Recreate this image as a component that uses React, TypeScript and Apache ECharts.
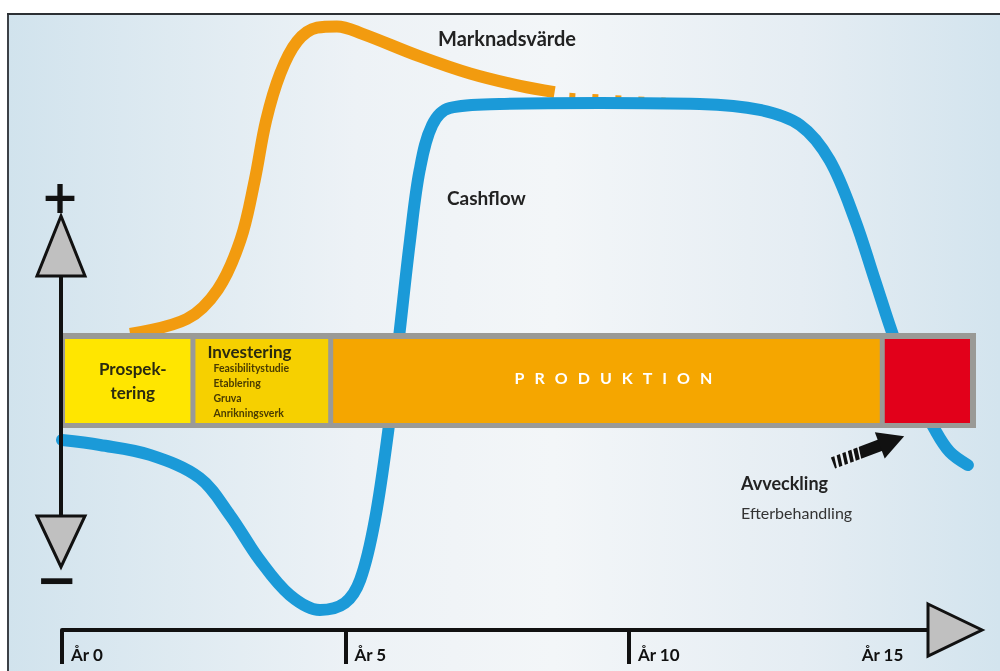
import React, { useEffect, useRef } from "react";
import * as echarts from "echarts";

// ---- data ----
const marketYears = [1.2, 2.2, 2.75, 3.15, 3.4, 3.6, 3.85, 4.15, 4.5, 4.85, 5.3, 6.3, 7.2, 8.08, 8.69];
const marketValues = [2.1, 2.7, 3.9, 5.9, 8.3, 10.7, 12.6, 13.9, 14.45, 14.5, 14.2, 13.3, 12.6, 12.1, 11.85];
const forecastYears = [8.95, 10.65];
const forecastValues = [11.7, 11.5];
const cashYears = [0, 0.67, 1.55, 2.43, 2.96, 3.49, 4.02, 4.55, 4.99, 5.26, 5.52, 5.78, 5.96, 6.14, 6.31, 6.53, 6.84, 7.72, 9.49, 11.25, 12.31, 13.02, 13.54, 13.99, 14.34, 14.69, 15.04, 15.4, 15.66, 15.98];
const cashValues = [-2.18, -2.38, -2.78, -3.71, -5.2, -7.02, -8.43, -9.03, -8.75, -7.82, -5.4, -1.37, 2.26, 5.89, 8.71, 10.52, 11.21, 11.37, 11.41, 11.37, 11.13, 10.52, 9.11, 6.69, 4.27, 1.85, -0.16, -1.77, -2.66, -3.19];

const phaseNames = ["Prospektering", "Investering", "Produktion", "Avveckling"];
const phaseStart = [0, 2.31, 4.74, 14.47];
const phaseEnd = [2.31, 4.74, 14.47, 16];
const phaseColors = ["#ffe600", "#f6d000", "#f5a600", "#e2001a"];
const investSubLabels = ["Feasibilitystudie", "Etablering", "Gruva", "Anrikningsverk"];

const tickYears = [0, 5, 10];
const tickLabels = ["År 0", "År 5", "År 10"];
const endYear = [15];
const endLabel = ["År 15"];

const BAR_TOP = 2.137;
const BAR_BOTTOM = -1.694;
const ORANGE = "#f29b0f";
const BLUE = "#1b9ad8";
const FONT = "Lato, 'Open Sans', sans-serif";

export default function App() {
  const ref = useRef<HTMLDivElement>(null);
  useEffect(() => {
    const chart = echarts.init(ref.current!, null, { renderer: "svg" });
    const option: any = {
      animation: false,
      grid: { left: 62, right: 31, top: 14, bottom: 41, containLabel: false },
      xAxis: [
        {
          type: "value",
          min: 0,
          max: 16,
          interval: 5,
          axisLine: { show: true, onZero: false, lineStyle: { color: "#111", width: 4 } },
          axisTick: { show: true, customValues: tickYears, length: 34, inside: false, lineStyle: { color: "#111", width: 4 } },
          axisLabel: {
            customValues: tickYears,
            formatter: (v: number) => { const i = tickYears.indexOf(v); return i >= 0 ? tickLabels[i] : ""; },
            align: "left",
            verticalAlign: "top",
            padding: [0, 0, 0, 9],
            margin: 16,
            fontFamily: FONT,
            fontWeight: "bold",
            fontSize: 17,
            color: "#111",
          },
          splitLine: { show: false },
        },
        {
          type: "value",
          min: 0,
          max: 16,
          interval: 15,
          position: "bottom",
          axisLine: { show: false, onZero: false },
          axisTick: { show: false },
          axisLabel: {
            customValues: endYear,
            formatter: (v: number) => { const i = endYear.indexOf(v); return i >= 0 ? endLabel[i] : ""; },
            align: "right",
            verticalAlign: "top",
            padding: [0, 9, 0, 0],
            margin: 16,
            fontFamily: FONT,
            fontWeight: "bold",
            fontSize: 17,
            color: "#111",
          },
          splitLine: { show: false },
        },
      ],
      yAxis: { type: "value", min: -9.84, max: 15, show: false },
      graphic: [
        {
          type: "rect",
          z: -10,
          silent: true,
          shape: { x: 8, y: 14, width: 992, height: 657 },
          style: {
            fill: new echarts.graphic.LinearGradient(0, 0, 1, 0, [
              { offset: 0, color: "#d1e3ed" },
              { offset: 0.35, color: "#edf2f6" },
              { offset: 0.55, color: "#f3f6f8" },
              { offset: 0.8, color: "#e5edf3" },
              { offset: 1, color: "#d3e4ee" },
            ]),
          },
        },
        { type: "line", z: 100, shape: { x1: 8, y1: 14, x2: 8, y2: 671 }, style: { stroke: "#3c4146", lineWidth: 2 } },
        { type: "line", z: 100, shape: { x1: 7, y1: 14, x2: 1000, y2: 14 }, style: { stroke: "#2c3034", lineWidth: 2 } },
        // vertical +/- axis
        { type: "line", z: 100, shape: { x1: 61, y1: 274, x2: 61, y2: 518 }, style: { stroke: "#111", lineWidth: 4 } },
        { type: "polygon", z: 100, shape: { points: [[61, 216], [37, 276], [85, 276]] }, style: { fill: "#c0c0c0", stroke: "#111", lineWidth: 3 } },
        { type: "polygon", z: 100, shape: { points: [[37, 516], [85, 516], [61, 567]] }, style: { fill: "#c0c0c0", stroke: "#111", lineWidth: 3 } },
        { type: "text", z: 100, style: { x: 60, y: 197, text: "+", fill: "#111", fontSize: 46, fontWeight: "bold", fontFamily: "DejaVu Sans", align: "center", verticalAlign: "middle" } },
        { type: "text", z: 100, style: { x: 57, y: 580, text: "−", fill: "#111", fontSize: 50, fontWeight: "bold", fontFamily: "DejaVu Sans", align: "center", verticalAlign: "middle" } },
        // x axis arrow head
        { type: "polygon", z: 100, shape: { points: [[928, 604], [982, 630], [928, 656]] }, style: { fill: "#c0c0c0", stroke: "#111", lineWidth: 3 } },
        // annotations
        { type: "text", z: 100, style: { x: 438, y: 38, text: "Marknadsvärde", fill: "#222", fontSize: 20, fontWeight: "bold", fontFamily: FONT, align: "left", verticalAlign: "middle" } },
        { type: "text", z: 100, style: { x: 447, y: 197, text: "Cashflow", fill: "#222", fontSize: 19, fontWeight: "bold", fontFamily: FONT, align: "left", verticalAlign: "middle" } },
        { type: "text", z: 100, style: { x: 741, y: 483, text: "Avveckling", fill: "#222", fontSize: 18, fontWeight: "bold", fontFamily: FONT, align: "left", verticalAlign: "middle" } },
        { type: "text", z: 100, style: { x: 741, y: 512, text: "Efterbehandling", fill: "#333", fontSize: 16, fontFamily: FONT, align: "left", verticalAlign: "middle" } },
        // Avveckling arrow
        {
          type: "group",
          z: 100,
          x: 833,
          y: 463,
          rotation: 0.36,
          children: [
            { type: "rect", shape: { x: 0, y: -6, width: 52, height: 12 }, style: { fill: "#111" } },
            { type: "polygon", shape: { points: [[50, -14], [76, 0], [50, 14]] }, style: { fill: "#111" } },
            { type: "line", shape: { x1: 5, y1: -7, x2: 3, y2: 7 }, style: { stroke: "#eef3f6", lineWidth: 2.5 } },
            { type: "line", shape: { x1: 11, y1: -7, x2: 9, y2: 7 }, style: { stroke: "#eef3f6", lineWidth: 2.5 } },
            { type: "line", shape: { x1: 17, y1: -7, x2: 15, y2: 7 }, style: { stroke: "#eef3f6", lineWidth: 2.5 } },
            { type: "line", shape: { x1: 23, y1: -7, x2: 21, y2: 7 }, style: { stroke: "#eef3f6", lineWidth: 2 } },
            { type: "line", shape: { x1: 29, y1: -7, x2: 27, y2: 7 }, style: { stroke: "#eef3f6", lineWidth: 1.5 } },
          ],
        },
      ],
      series: [
        {
          name: "Marknadsvärde",
          type: "line",
          xAxisIndex: 0,
          data: marketYears.map((x, i) => [x, marketValues[i]]),
          smooth: 0.35,
          showSymbol: false,
          symbol: "none",
          lineStyle: { color: ORANGE, width: 12, cap: "butt" },
          z: 2,
        },
        {
          name: "Marknadsvärde (prognos)",
          type: "line",
          xAxisIndex: 0,
          data: forecastYears.map((x, i) => [x, forecastValues[i]]),
          showSymbol: false,
          symbol: "none",
          lineStyle: { color: ORANGE, width: 6, type: [6, 17], cap: "butt" },
          z: 2,
        },
        {
          name: "Cashflow",
          type: "line",
          xAxisIndex: 0,
          data: cashYears.map((x, i) => [x, cashValues[i]]),
          smooth: 0.35,
          showSymbol: false,
          symbol: "none",
          lineStyle: { color: BLUE, width: 12, cap: "round" },
          z: 2,
        },
        {
          name: "Faser",
          type: "custom",
          xAxisIndex: 0,
          z: 5,
          clip: false,
          data: phaseStart.map((s, i) => [s, phaseEnd[i], i]),
          encode: { x: [0, 1] },
          renderItem: (params: any, api: any) => {
            const i = params.dataIndex;
            const last = phaseNames.length - 1;
            const p0 = api.coord([api.value(0), BAR_TOP]);
            const p1 = api.coord([api.value(1), BAR_BOTTOM]);
            const x0 = p0[0] + (i === 0 ? 3 : 2.5);
            const x1 = p1[0] - (i === last ? -1 : 2.5);
            const y0 = p0[1] + 6;
            const y1 = p1[1] - 5;
            const children: any[] = [];
            if (i === 0) {
              const q0 = api.coord([phaseStart[0], BAR_TOP]);
              const q1 = api.coord([phaseEnd[last], BAR_BOTTOM]);
              children.push({ type: "rect", shape: { x: q0[0] - 3, y: q0[1], width: q1[0] + 7 - (q0[0] - 3), height: q1[1] - q0[1] }, style: { fill: "#9a9a96" } });
            }
            children.push({ type: "rect", shape: { x: x0, y: y0, width: x1 - x0, height: y1 - y0 }, style: { fill: phaseColors[i] } });
            const cy = (y0 + y1) / 2;
            if (i === 0) {
              children.push({ type: "text", style: { x: (x0 + x1) / 2 + 5, y: cy, text: "Prospek-\ntering", fill: "#2a2a10", fontSize: 17, fontWeight: "bold", fontFamily: FONT, align: "center", verticalAlign: "middle", lineHeight: 24 } });
            } else if (i === 1) {
              children.push({ type: "text", style: { x: x0 + 12, y: y0 + 13, text: phaseNames[1], fill: "#2a2a10", fontSize: 17, fontWeight: "bold", fontFamily: FONT, align: "left", verticalAlign: "middle" } });
              investSubLabels.forEach((t, k) => {
                children.push({ type: "text", style: { x: x0 + 18, y: y0 + 29 + k * 15, text: t, fill: "#4a3c00", fontSize: 10.5, fontWeight: "bold", fontFamily: FONT, align: "left", verticalAlign: "middle" } });
              });
            } else if (i === 2) {
              children.push({ type: "text", style: { x: (x0 + x1) / 2 + 7, y: cy - 3, text: phaseNames[2].toUpperCase().split("").join("\u2002\u2009"), fill: "#ffffff", fontSize: 16, fontWeight: "bold", fontFamily: FONT, align: "center", verticalAlign: "middle" } });
            }
            return { type: "group", children };
          },
        },
      ],
    };
    chart.setOption(option);
    return () => chart.dispose();
  }, []);
  return <div ref={ref} style={{ position: "fixed", left: 0, top: 0, width: 1000, height: 671 }} />;
}
